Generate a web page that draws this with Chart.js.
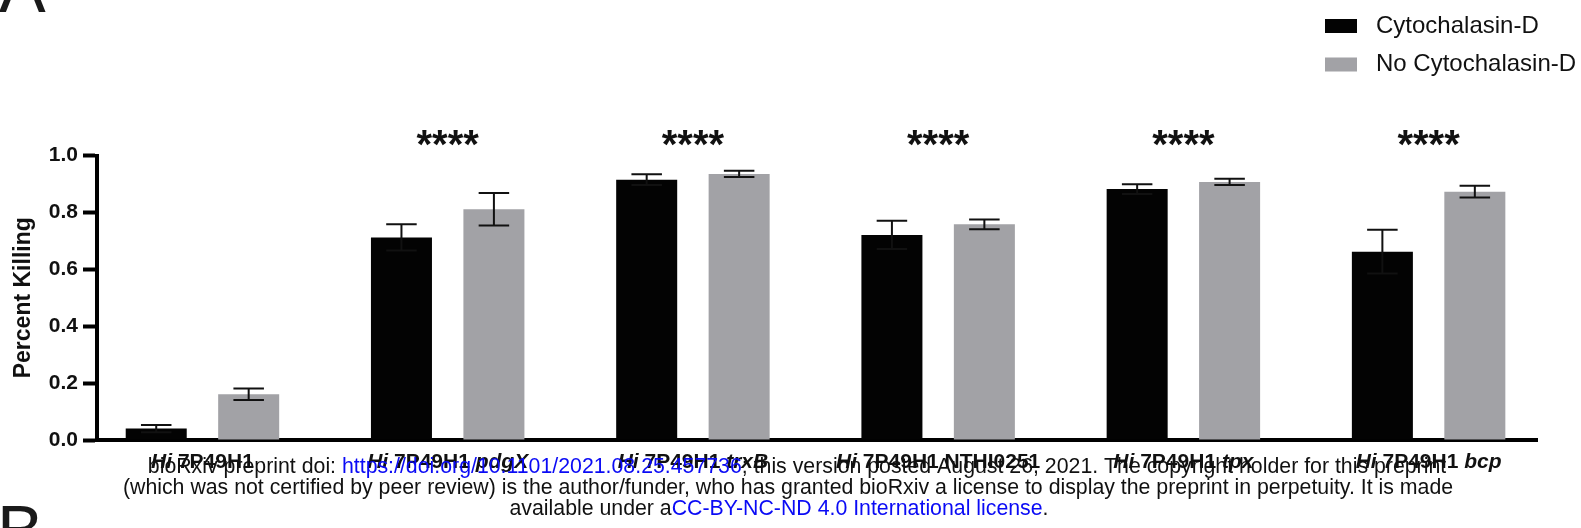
<!DOCTYPE html>
<html>
<head>
<meta charset="utf-8">
<title>Percent Killing</title>
<script src="https://cdn.jsdelivr.net/npm/chart.js@4/dist/chart.umd.min.js"></script>
<style>
  html, body { margin: 0; padding: 0; background: #fff; }
  #wrap { position: relative; width: 1581px; height: 528px; overflow: hidden; }
  canvas { position: absolute; left: 0; top: 0; }
</style>
</head>
<body>
<div id="wrap"><canvas id="chart" width="1581" height="528"></canvas></div>
<script>
const FONT = "'Liberation Sans', Arial, Helvetica, sans-serif";

// Strains: genus + parent strain + deleted gene
const genus = 'Hi';
const strain = '7P49H1';
const mutants = ['', 'pdgX', 'trxB', 'NTHI0251', 'tpx', 'bcp'];
const mutantItalic = [false, true, true, false, true, true];

// Mean percent killing and error (SEM)
const cytoD = [0.040, 0.712, 0.915, 0.721, 0.882, 0.662];
const cytoDErr = [0.013, 0.046, 0.019, 0.050, 0.017, 0.077];
const noCytoD = [0.161, 0.811, 0.935, 0.758, 0.907, 0.873];
const noCytoDErr = [0.020, 0.057, 0.011, 0.017, 0.011, 0.021];

// Significance marks per strain
const significance = ['', '****', '****', '****', '****', '****'];

// Y axis ticks
const yTicks = [0, 0.2, 0.4, 0.6, 0.8, 1.0];

const seriesNames = ['Cytochalasin-D', 'No Cytochalasin-D'];
const seriesColors = ['#030303', '#a2a2a6'];

const noteLines = [
  [['bioRxiv preprint doi: ', '#111'], ['https://doi.org/10.1101/2021.08.25.457736', '#0a0af5'],
   ['; this version posted August 26, 2021. The copyright holder for this preprint', '#111']],
  [['(which was not certified by peer review) is the author/funder, who has granted bioRxiv a license to display the preprint in perpetuity. It is made', '#111']],
  [['available under a', '#111'], ['CC-BY-NC-ND 4.0 International license', '#0a0af5'], ['.', '#111']]
];
const noteCenters = [797, 788, 779];

const points = arr => arr.map((v, i) => ({ x: i, y: v }));

// Error bars with caps, drawn over each bar
const errorBars = {
  id: 'errorBars',
  afterDatasetsDraw(chart) {
    const ctx = chart.ctx;
    const y = chart.scales.y;
    ctx.save();
    ctx.strokeStyle = '#111';
    ctx.lineWidth = 2;
    chart.data.datasets.forEach((ds, di) => {
      const meta = chart.getDatasetMeta(di);
      meta.data.forEach((bar, i) => {
        const v = ds.data[i].y, e = ds.errors[i];
        const top = y.getPixelForValue(v + e);
        const bot = y.getPixelForValue(v - e);
        const half = bar.width / 4;
        ctx.beginPath();
        ctx.moveTo(bar.x, top); ctx.lineTo(bar.x, bot);
        ctx.moveTo(bar.x - half, top); ctx.lineTo(bar.x + half, top);
        ctx.moveTo(bar.x - half, bot); ctx.lineTo(bar.x + half, bot);
        ctx.stroke();
      });
    });
    ctx.restore();
  }
};

// Strain labels, significance stars, legend, panel letters and footer note
const annotations = {
  id: 'annotations',
  afterDraw(chart) {
    const ctx = chart.ctx;
    const xs = chart.scales.x, ys = chart.scales.y;
    ctx.save();

    // strain labels under the axis
    ctx.fillStyle = '#111';
    ctx.textBaseline = 'middle';
    ctx.textAlign = 'left';
    mutants.forEach((m, i) => {
      const parts = [[genus, 'italic bold'], [' ' + strain, 'bold']];
      if (m) parts.push([' ' + m, mutantItalic[i] ? 'italic bold' : 'bold']);
      let total = 0;
      parts.forEach(p => { ctx.font = p[1] + ' 21px ' + FONT; total += ctx.measureText(p[0]).width; });
      let x = xs.getPixelForValue(i) - total / 2;
      parts.forEach(p => {
        ctx.font = p[1] + ' 21px ' + FONT;
        ctx.fillText(p[0], x, 462);
        x += ctx.measureText(p[0]).width;
      });
    });

    // significance marks
    ctx.font = 'bold 40px ' + FONT;
    ctx.textAlign = 'center';
    ctx.textBaseline = 'alphabetic';
    significance.forEach((s, i) => {
      if (s) ctx.fillText(s, xs.getPixelForValue(i), ys.getPixelForValue(1) + 2);
    });

    // legend
    ctx.font = '24px ' + FONT;
    ctx.textAlign = 'left';
    ctx.textBaseline = 'middle';
    chart.data.datasets.forEach((ds, i) => {
      const cy = 26 + i * 38.5;
      ctx.fillStyle = ds.backgroundColor;
      ctx.fillRect(1325, cy - 7, 32, 14);
      ctx.fillStyle = '#111';
      ctx.fillText(ds.label, 1376, cy);
    });

    // panel letters
    ctx.font = '70px ' + FONT;
    ctx.textBaseline = 'alphabetic';
    ctx.fillStyle = '#1a1a1a';
    ctx.fillText('A', -1, 12);
    ctx.fillText('B', -3, 555);

    // footer note
    ctx.font = '21.3px ' + FONT;
    ctx.textBaseline = 'middle';
    noteLines.forEach((line, li) => {
      let total = 0;
      line.forEach(seg => { total += ctx.measureText(seg[0]).width; });
      let x = noteCenters[li] - total / 2;
      line.forEach(seg => {
        ctx.fillStyle = seg[1];
        ctx.fillText(seg[0], x, 467 + li * 21);
        x += ctx.measureText(seg[0]).width;
      });
    });
    ctx.restore();
  }
};

new Chart(document.getElementById('chart'), {
  type: 'bar',
  data: {
    datasets: [
      { label: seriesNames[0], data: points(cytoD), errors: cytoDErr, backgroundColor: seriesColors[0] },
      { label: seriesNames[1], data: points(noCytoD), errors: noCytoDErr, backgroundColor: seriesColors[1] }
    ]
  },
  options: {
    responsive: false,
    animation: false,
    events: [],
    layout: { padding: { left: 0, top: 155.5, right: 44, bottom: 88 } },
    datasets: { bar: { categoryPercentage: 0.754, barPercentage: 0.66 } },
    plugins: { legend: { display: false }, tooltip: { enabled: false } },
    scales: {
      x: {
        type: 'linear',
        offset: false,
        min: -0.43,
        max: 5.442,
        grid: { display: false, drawTicks: false, offset: false },
        border: { display: true, color: '#000', width: 4 },
        ticks: { display: false },
        afterBuildTicks: s => { s.ticks = mutants.map((_, i) => ({ value: i })); },
        afterFit: s => { s.height = 0; }
      },
      y: {
        min: 0,
        max: 1,
        afterBuildTicks: s => { s.ticks = yTicks.map(v => ({ value: v })); },
        ticks: {
          callback: v => Number(v).toFixed(1),
          font: { family: FONT, size: 21, weight: 'bold' },
          color: '#111',
          padding: 5
        },
        grid: { display: true, drawOnChartArea: false, drawTicks: true, tickLength: 14, tickWidth: 4, tickColor: '#000' },
        border: { display: true, color: '#000', width: 4 },
        title: {
          display: true,
          text: 'Percent Killing',
          font: { family: FONT, size: 23, weight: 'bold' },
          color: '#111',
          padding: { top: 10, bottom: 0 }
        },
        afterFit: s => { s.width = 97; }
      }
    }
  },
  plugins: [errorBars, annotations]
});
</script>
</body>
</html>
